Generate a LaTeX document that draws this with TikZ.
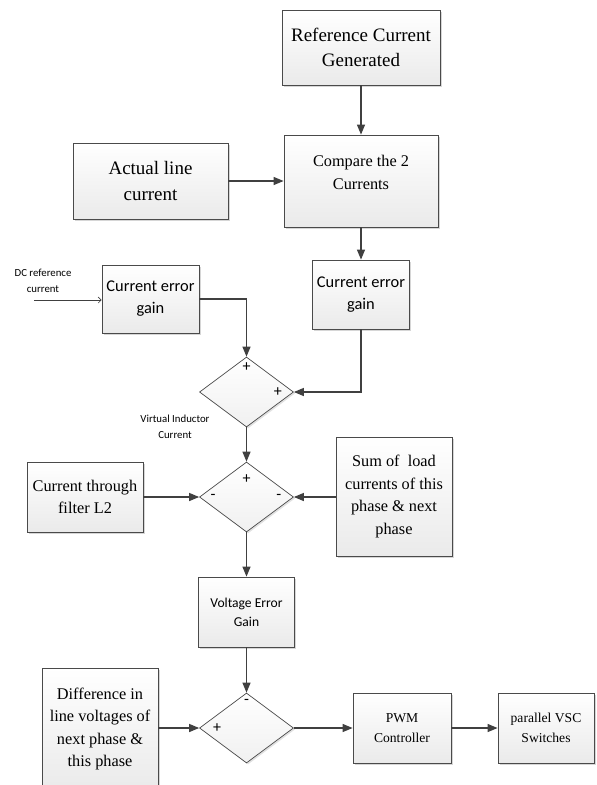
\documentclass[tikz,border=0pt]{standalone}
\usepackage{fontspec}
\setmainfont{Liberation Serif}
\newfontfamily\calibri{Carlito}
\usepackage{tikz}
\usetikzlibrary{positioning, shapes.geometric, arrows.meta, shadows}
\definecolor{linecolor}{HTML}{404040}
\definecolor{boxedge}{HTML}{4A4A4A}
\definecolor{boxfill}{HTML}{EAEAEA}
\definecolor{shadowcolor}{HTML}{C4C4C4}

\begin{document}
\begin{tikzpicture}[
  x=1pt, y=-1pt,
  block/.style={draw=boxedge, line width=0.8pt, top color=white, bottom color=boxfill,
    drop shadow={shadow xshift=1.5pt, shadow yshift=-1.5pt, fill=shadowcolor, opacity=0.7},
    align=center, inner sep=2pt},
  sumjunction/.style={diamond, draw=boxedge, line width=0.7pt, top color=white, bottom color=boxfill!70,
    drop shadow={shadow xshift=1.5pt, shadow yshift=-1.5pt, fill=shadowcolor, opacity=0.5},
    inner sep=0pt, minimum width=94, minimum height=70},
  sign/.style={font=\calibri\fontsize{16}{16}\selectfont, inner sep=0pt},
  flow/.style={draw=linecolor, line width=1.2pt, -{Triangle[length=10pt, width=8pt]}},
  thinflow/.style={draw=linecolor, line width=0.6pt, -{Straight Barb[length=3pt, width=6pt]}},
  note/.style={font=\calibri\fontsize{10.8}{16}\selectfont, align=center, inner sep=0pt},
  serifbig/.style={font=\fontsize{19}{25.5}\selectfont},
  serifmid/.style={font=\fontsize{16.3}{22.5}\selectfont, align=center},
  serifsmall/.style={font=\fontsize{13.6}{20}\selectfont},
  sansmid/.style={font=\calibri\fontsize{16.4}{22}\selectfont},
  sanssmall/.style={font=\calibri\fontsize{13.6}{19}\selectfont}
]
\useasboundingbox (0,0) rectangle (597,785);

% reference path
\node[block, serifbig, minimum width=158, minimum height=75] (ref) at (361,47.5)
  {Reference Current\\Generated};
\node[block, minimum width=154, minimum height=92] (cmp) at (361,181) {};
\node[serifmid] (cmptext) at ([yshift=8.5pt]cmp.center) {Compare the 2\\Currents};
\node[block, serifbig, minimum width=155, minimum height=76] (act) at (150.5,181)
  {Actual line\\current};

% current error gains
\node[block, sansmid, minimum width=97, minimum height=69] (cegB) at (361,294.5)
  {Current error\\gain};
\node[block, sansmid, minimum width=97, minimum height=68] (cegA) at (150.5,299)
  {Current error\\gain};
\coordinate (dcin) at (34,300);
\node[note] (dclabel) at (43,281) {DC reference\\current};

% summing junctions
\node[sumjunction] (sumA) at (246.5,392) {};
\node[sign] (sumAtop) at ([yshift=-10pt]sumA.north) {+};
\node[sign] (sumAright) at ([xshift=-16pt]sumA.east) {+};
\node[note] (vilabel) at (175,427) {Virtual Inductor\\Current};

\node[sumjunction] (sumB) at (246.5,497) {};
\node[sign] (sumBtop) at ([yshift=-17pt]sumB.north) {+};
\node[sign] (sumBleft) at ([xshift=14pt]sumB.west) {-};
\node[sign] (sumBright) at ([xshift=-15pt]sumB.east) {-};

\node[block, serifmid, minimum width=116, minimum height=70] (ctf) at (85,497)
  {Current through\\filter L2};
\node[block, serifmid, minimum width=116, minimum height=119] (load) at (394,496.5)
  {Sum of\ \ load\\currents of this\\phase \& next\\phase};

% voltage loop
\node[block, sanssmall, minimum width=96, minimum height=70] (veg) at (246.5,612)
  {Voltage Error\\Gain};
\node[sumjunction] (sumC) at (246.5,728) {};
\node[sign] (sumCtop) at ([yshift=-9pt]sumC.north) {-};
\node[sign] (sumCleft) at ([xshift=18pt]sumC.west) {+};
\node[block, serifmid, minimum width=116, minimum height=122] (diff) at (100,729)
  {Difference in\\line voltages of\\next phase \&\\this phase};
\node[block, serifsmall, minimum width=98, minimum height=70] (pwm) at (402,728)
  {PWM\\Controller};
\node[block, serifsmall, minimum width=96, minimum height=70] (vsc) at (546,728)
  {parallel VSC\\Switches};

% connectors
\draw[flow] (ref) -- (cmp);
\draw[flow] (act) -- (cmp);
\draw[flow] (cmp) -- (cegB);
\draw[flow] (cegB.south) |- (sumA.east);
\draw[flow] (cegA.east) -| (sumA.north);
\draw[thinflow] (dcin) -- (dcin -| cegA.west);
\draw[flow] (sumA) -- (sumB);
\draw[flow] (ctf) -- (sumB);
\draw[flow] (load.west |- sumB) -- (sumB.east);
\draw[flow] (sumB) -- (veg);
\draw[flow] (veg) -- (sumC);
\draw[flow] (diff.east |- sumC) -- (sumC.west);
\draw[flow] (sumC) -- (pwm);
\draw[flow] (pwm) -- (vsc);

\end{tikzpicture}
\end{document}
